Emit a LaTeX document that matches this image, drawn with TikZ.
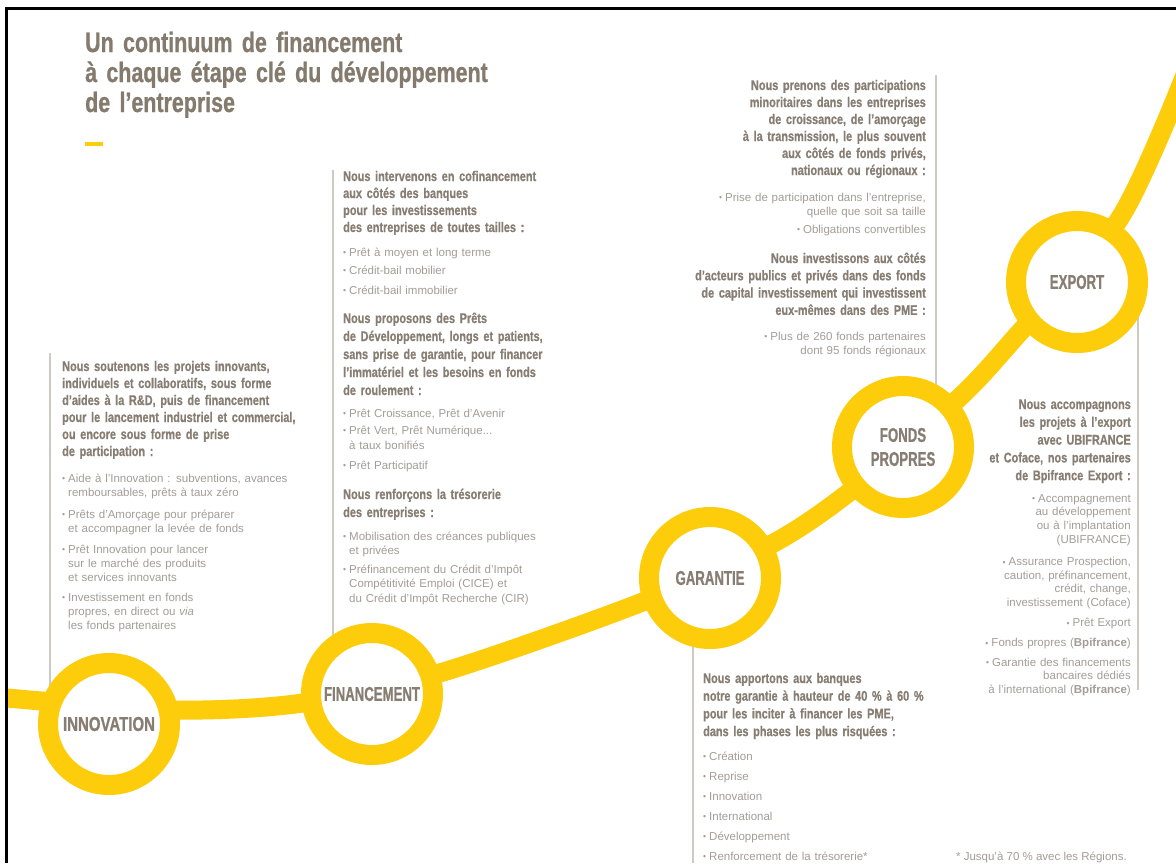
\documentclass[tikz,border=0pt]{standalone}
\usepackage{fontspec}
\usepackage{graphicx}
\setmainfont{Liberation Sans}
\newfontfamily\cond[FakeStretch=0.78,FakeBold=0.6]{Liberation Sans}
\newfontfamily\tcond[FakeStretch=0.765,FakeBold=0.8]{Liberation Sans}
\newfontfamily\lblfont[FakeStretch=0.66,FakeBold=0.8]{Liberation Sans}
\newfontfamily\lblwide[FakeStretch=0.75,FakeBold=0.8]{Liberation Sans}
\definecolor{ttlc}{HTML}{857A6E}
\definecolor{hdc}{HTML}{877D72}
\definecolor{bdc}{HTML}{A39D96}
\definecolor{yel}{HTML}{FDCC0A}
\definecolor{rulec}{HTML}{CDC9C5}
\newcommand{\bul}{\makebox[6pt][l]{\raisebox{0.02ex}{\scalebox{0.75}{•}}}}
\newcommand{\ind}{\hspace*{6pt}}
\tikzset{
  headL/.style={anchor=base west, inner sep=0pt, text width=320pt, align=left,
    font=\cond\bfseries\fontsize{14}{#1}\selectfont, text=hdc},
  headL/.default=17,
  headR/.style={anchor=base east, inner sep=0pt, text width=320pt, align=right,
    font=\cond\bfseries\fontsize{14}{#1}\selectfont, text=hdc},
  headR/.default=17,
  bodyL/.style={anchor=base west, inner sep=0pt, text width=320pt, align=left,
    font=\fontsize{11.5}{#1}\selectfont, text=bdc},
  bodyL/.default=14,
  bodyR/.style={anchor=base east, inner sep=0pt, text width=320pt, align=right,
    font=\fontsize{11.5}{#1}\selectfont, text=bdc},
  bodyR/.default=14,
  ring/.style={circle, draw=yel, line width=20pt, fill=white, minimum size=122pt,
    inner sep=0pt, text=hdc, align=center},
  road/.style={draw=yel, line width=19pt},
  vrule/.style={draw=rulec, line width=1.4pt},
}
\begin{document}
\begin{tikzpicture}[x=1pt,y=-1pt]
\useasboundingbox (0,0) rectangle (1176,863);
\clip (0,0) rectangle (1176,863);
\fill[white] (0,0) rectangle (1176,863);

% vertical rules
\draw[vrule] (50,353) -- (50,700);
\draw[vrule] (333,170) -- (333,650);
\draw[vrule] (936,75) -- (936,400);
\draw[vrule] (1138,300) -- (1138,690);
\draw[vrule] (693,640) -- (693,863);

% road
\coordinate (p0) at (7,698);
\coordinate (p1) at (173,710);
\coordinate (p2) at (303,703);
\coordinate (p3) at (443,672);
\coordinate (p4) at (640,603);
\coordinate (p5) at (770,545);
\coordinate (p6) at (852,490);
\coordinate (p7) at (960,397);
\coordinate (p8) at (1020,332);
\coordinate (p9) at (1120,218);
\coordinate (p10) at (1185,75);
\draw[road] plot[smooth, tension=0.5] coordinates {(p0) (p1) (p2) (p3) (p4) (p5) (p6) (p7) (p8) (p9) (p10)};

% rings
\node[ring, font=\lblwide\bfseries\fontsize{20}{24}\selectfont] (innov) at (109,724) {INNOVATION};
\node[ring, font=\lblfont\bfseries\fontsize{20}{24}\selectfont] (fin) at (372,694) {FINANCEMENT};
\node[ring, font=\lblfont\bfseries\fontsize{20}{24}\selectfont] (gar) at (710,578) {GARANTIE};
\node[ring, font=\lblfont\bfseries\fontsize{20}{24}\selectfont] (fonds) at (903,447) {FONDS\\PROPRES};
\node[ring, font=\lblfont\bfseries\fontsize{20}{24}\selectfont] (exp) at (1077,282) {EXPORT};

% title
\node[anchor=base west, inner sep=0pt, text width=500pt, align=left, text=ttlc,
  font=\tcond\bfseries\fontsize{28}{30}\selectfont] (title) at (85,52)
  {Un continuum de financement\\à chaque étape clé du développement\\de l’entreprise};
\fill[yel] (85,142) rectangle (103,146);

% block 1
\node[headL] (b1h) at (62,371) {Nous soutenons les projets innovants,\\individuels et collaboratifs, sous forme\\d’aides à la R\&D, puis de financement\\pour le lancement industriel et commercial,\\ou encore sous forme de prise\\de participation :};
\node[bodyL] (b1b) at (62,482) {\bul Aide à l’Innovation : subventions, avances\\\ind remboursables, prêts à taux zéro\\[8pt]\bul Prêts d’Amorçage pour préparer\\\ind et accompagner la levée de fonds\\[7pt]\bul Prêt Innovation pour lancer\\\ind sur le marché des produits\\\ind et services innovants\\[6pt]\bul Investissement en fonds\\\ind propres, en direct ou \textit{via}\\\ind les fonds partenaires};

% block 2
\node[headL] (b2h1) at (343,181) {Nous intervenons en cofinancement\\aux côtés des banques\\pour les investissements\\des entreprises de toutes tailles :};
\node[bodyL] (b2b1) at (343,256) {\bul Prêt à moyen et long terme\\[4pt]\bul Crédit-bail mobilier\\[6pt]\bul Crédit-bail immobilier};
\node[headL=18] (b2h2) at (343,323) {Nous proposons des Prêts\\de Développement, longs et patients,\\sans prise de garantie, pour financer\\l’immatériel et les besoins en fonds\\de roulement :};
\node[bodyL=15] (b2b2) at (343,417) {\bul Prêt Croissance, Prêt d’Avenir\\[2pt]\bul Prêt Vert, Prêt Numérique...\\\ind à taux bonifiés\\[5pt]\bul Prêt Participatif};
\node[headL=18] (b2h3) at (343,499) {Nous renforçons la trésorerie\\des entreprises :};
\node[bodyL=14.5] (b2b3) at (343,540) {\bul Mobilisation des créances publiques\\\ind et privées\\[4pt]\bul Préfinancement du Crédit d’Impôt\\\ind Compétitivité Emploi (CICE) et\\\ind du Crédit d’Impôt Recherche (CIR)};

% block 3
\node[headR] (b3h1) at (926,90) {Nous prenons des participations\\minoritaires dans les entreprises\\de croissance, de l’amorçage\\à la transmission, le plus souvent\\aux côtés de fonds privés,\\nationaux ou régionaux :};
\node[bodyR] (b3b1) at (926,201) {\bul Prise de participation dans l’entreprise,\\quelle que soit sa taille\\[4pt]\bul Obligations convertibles};
\node[headR=17.3] (b3h2) at (926,263) {Nous investissons aux côtés\\d’acteurs publics et privés dans des fonds\\de capital investissement qui investissent\\eux-mêmes dans des PME :};
\node[bodyR] (b3b2) at (926,340) {\bul Plus de 260 fonds partenaires\\dont 95 fonds régionaux};

% block 4
\node[headR=17.8] (b4h) at (1131,409) {Nous accompagnons\\les projets à l’export\\avec UBIFRANCE\\et Coface, nos partenaires\\de Bpifrance Export :};
\node[bodyR=13.8] (b4b) at (1131,502) {\bul Accompagnement\\au développement\\ou à l’implantation\\(UBIFRANCE)\\[8pt]\bul Assurance Prospection,\\caution, préfinancement,\\crédit, change,\\investissement (Coface)\\[6pt]\bul Prêt Export\\[6pt]\bul Fonds propres (\textbf{Bpifrance})\\[6pt]\bul Garantie des financements\\bancaires dédiés\\à l’international (\textbf{Bpifrance})};

% block 5
\node[headL=17.7] (b5h) at (703,683) {Nous apportons aux banques\\notre garantie à hauteur de 40 \% à 60 \%\\pour les inciter à financer les PME,\\dans les phases les plus risquées :};
\node[bodyL=20] (b5b) at (703,760) {\bul Création\\\bul Reprise\\\bul Innovation\\\bul International\\\bul Développement\\\bul Renforcement de la trésorerie*};
\node[anchor=base east, inner sep=0pt, text=bdc, font=\fontsize{11.5}{14}\selectfont] (note) at (1127,860) {* Jusqu’à 70 \% avec les Régions.};

% frame
\draw[black, line width=2.5pt] (6.5,863) -- (6.5,8.5) -- (1176,8.5);
\end{tikzpicture}
\end{document}
